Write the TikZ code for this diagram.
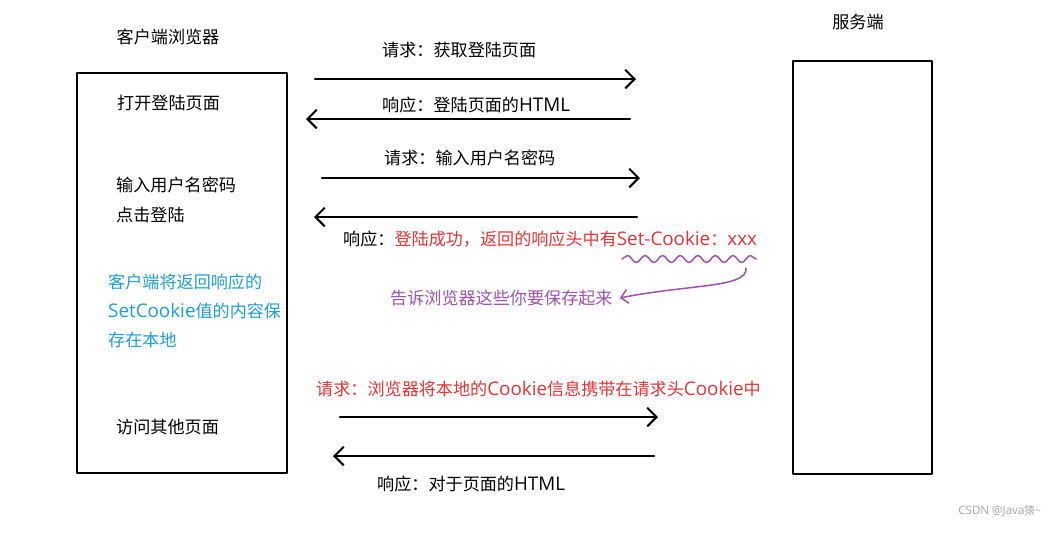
\documentclass[tikz,border=0pt]{standalone}
\usepackage{fontspec}
\setmainfont{Noto Sans CJK SC}
\newfontfamily\lat[Scale=1.1]{Open Sans}
\usetikzlibrary{arrows.meta,decorations.pathmorphing}
\begin{document}
\begin{tikzpicture}[x=0.03cm, y=-0.03cm, line cap=round, line join=round,
  font=\fontsize{14.6}{17}\selectfont,
  msg/.style={line width=2pt, -{Straight Barb[length=8pt,width=16pt,line width=1.7pt]}},
  frame/.style={line width=2pt},
  txt/.style={anchor=west, inner sep=0pt}]
  \definecolor{msgred}{RGB}{232,52,52}
  \definecolor{noteblue}{RGB}{30,158,218}
  \definecolor{notepurple}{RGB}{158,82,178}
  \useasboundingbox (0,0) rectangle (1052,546);
  % the two sides
  \draw[frame] (77,73) rectangle (287,473);
  \draw[frame] (793,61) rectangle (932,474);
  \node (client) at (168,37) {客户端浏览器};
  \node (server) at (858,22) {服务端};
  % client steps
  \node[txt] (open) at (117,103) {打开登陆页面};
  \node[txt] (input) at (116,185) {输入用户名密码};
  \node[txt] (click) at (116,215) {点击登陆};
  \node[txt, noteblue, align=left] (store) at (108,311)
    {客户端将返回响应的\\[8pt]{\lat SetCookie}值的内容保\\[8pt]存在本地};
  \node[txt] (visit) at (116,427) {访问其他页面};
  % endpoints
  \coordinate (r1a) at (315,79);  \coordinate (r1b) at (636,79);
  \coordinate (s1a) at (630,119); \coordinate (s1b) at (306,119);
  \coordinate (r2a) at (322,178); \coordinate (r2b) at (640,178);
  \coordinate (s2a) at (637,217); \coordinate (s2b) at (314,217);
  \coordinate (r3a) at (340,417); \coordinate (r3b) at (658,417);
  \coordinate (s3a) at (654,456); \coordinate (s3b) at (333,456);
  % messages
  \draw[msg] (r1a) -- (r1b);
  \node[txt] (req1) at (382,50) {请求：获取登陆页面};
  \draw[msg] (s1a) -- (s1b);
  \node[txt] (res1) at (382,105) {响应：登陆页面的{\lat HTML}};
  \draw[msg] (r2a) -- (r2b);
  \node[txt] (req2) at (384,158) {请求：输入用户名密码};
  \draw[msg] (s2a) -- (s2b);
  \node[txt] (res2) at (343,239) {响应：\textcolor{msgred}{登陆成功，返回的响应头中有{\lat Set-Cookie}：{\lat xxx}}};
  \draw[msg] (r3a) -- (r3b);
  \node[txt, msgred] (req3) at (316,389) {请求：浏览器将本地的{\lat Cookie}信息携带在请求头{\lat Cookie}中};
  \draw[msg] (s3a) -- (s3b);
  \node[txt] (res3) at (377,484) {响应：对于页面的{\lat HTML}};
  % the hint
  \coordinate (wa) at (622,259); \coordinate (wb) at (756,259);
  \draw[notepurple, line width=1.3pt, decorate,
    decoration={snake, amplitude=3pt, segment length=15pt}] (wa) -- (wb);
  \node[txt, notepurple] (hint) at (390,298) {告诉浏览器这些你要保存起来};
  \coordinate (ha) at (746,268);
  \draw[notepurple, line width=1.3pt, -{Straight Barb[length=6pt,width=12pt]}]
    (ha) .. controls (748,288) and (690,284) .. ([xshift=6pt]hint.east);
  \node[anchor=east, gray!70, font=\fontsize{9}{11}\selectfont] (mark) at (1045,511) {{\lat CSDN @Java}猿\textasciitilde};
\end{tikzpicture}
\end{document}
